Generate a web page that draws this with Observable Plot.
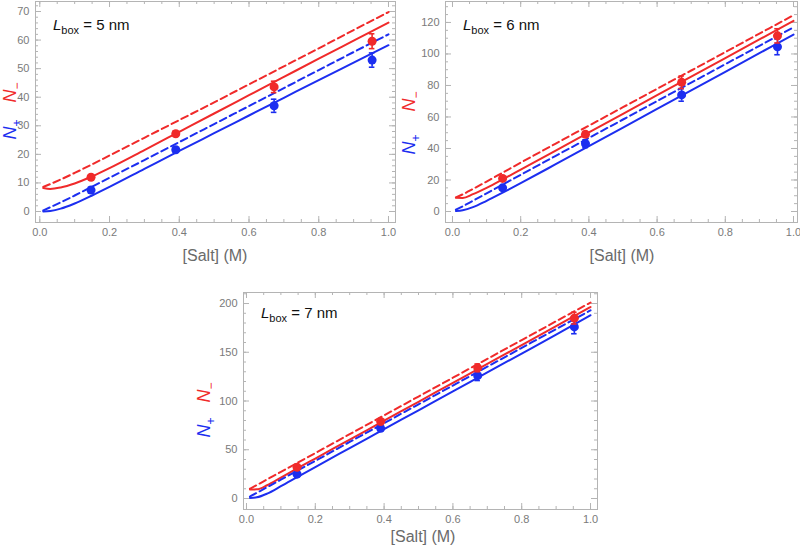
<!DOCTYPE html>
<html><head><meta charset="utf-8">
<script src="https://cdn.jsdelivr.net/npm/d3@7"></script>
<script src="https://cdn.jsdelivr.net/npm/@observablehq/plot@0.6"></script>
<style>
body{margin:0;background:#fff;font-family:"Liberation Sans",Arial,sans-serif;}
#c{position:relative;width:800px;height:550px;overflow:hidden;background:#fff;}
.p{position:absolute;}
.lab{position:absolute;color:#6a6a6a;font-size:16px;transform:translate(-50%,-50%);white-space:nowrap;line-height:1;}
.ylab{position:absolute;font-size:18px;transform:translate(-50%,-50%) rotate(-90deg);white-space:nowrap;line-height:1;}
.ylab sub{font-size:12px;}
.box{position:absolute;font-size:15px;color:#111;white-space:nowrap;transform:translate(0,-50%);line-height:1;}
.box sub{font-size:11px;}
</style></head><body><div id="c"></div><script>
// ---- shared ----
const salt = [0.147, 0.39, 0.672, 0.953];
const curveSalt = [0.01, 0.03, 0.06, 0.1, 0.15, 0.2, 0.3, 0.4, 0.5, 0.6, 0.7, 0.8, 0.9, 1.0];
const xTicks = [0, 0.2, 0.4, 0.6, 0.8, 1.0];

// ---- L_box = 5 nm ----
const L5_negSim = [12.0, 27.2, 43.6, 59.6];
const L5_negErr = [0.6, 0.9, 2.0, 2.6];
const L5_posSim = [7.5, 21.6, 37.0, 53.0];
const L5_posErr = [1.0, 0.8, 2.3, 2.5];
const L5_negDashed = [8.6, 9.6, 11.2, 13.5, 16.5, 19.6, 25.8, 32.0, 38.2, 44.5, 50.8, 57.1, 63.5, 69.8];
const L5_negSolid  = [8.2, 7.9, 8.4, 9.8, 12.3, 15.2, 21.5, 27.9, 34.3, 40.7, 47.1, 53.5, 59.8, 66.1];
const L5_posDashed = [0.4, 1.5, 3.2, 5.6, 8.7, 11.8, 18.0, 24.3, 30.6, 36.9, 43.2, 49.5, 55.8, 62.0];
const L5_posSolid  = [0.0, 0.2, 1.0, 2.8, 5.6, 8.6, 14.9, 21.2, 27.4, 33.6, 39.8, 46.0, 52.1, 58.2];
const L5_yTicks = [0, 10, 20, 30, 40, 50, 60, 70];

// ---- L_box = 6 nm ----
const L6_negSim = [21.0, 49.0, 82.0, 111.5];
const L6_negErr = [1.2, 1.5, 4.0, 4.5];
const L6_posSim = [15.0, 43.0, 74.0, 104.5];
const L6_posErr = [1.2, 2.5, 4.0, 5.0];
const L6_negDashed = [9.0, 10.9, 14.3, 19.0, 25.0, 31.0, 42.8, 54.5, 66.2, 77.9, 89.5, 101.2, 112.9, 124.6];
const L6_negSolid  = [8.7, 8.6, 11.0, 15.0, 20.7, 26.6, 38.4, 50.2, 62.0, 73.8, 85.6, 97.4, 109.2, 121.0];
const L6_posDashed = [1.2, 3.3, 6.8, 11.5, 17.4, 23.3, 35.0, 46.7, 58.4, 70.1, 81.8, 93.5, 105.2, 116.9];
const L6_posSolid  = [0.3, 0.8, 2.8, 6.8, 12.3, 18.0, 29.7, 41.5, 53.3, 65.1, 76.9, 88.7, 100.5, 112.3];
const L6_yTicks = [0, 20, 40, 60, 80, 100, 120];

// ---- L_box = 7 nm ----
const L7_negSim = [32.0, 79.0, 134.0, 185.0];
const L7_negErr = [2.0, 2.5, 4.0, 6.0];
const L7_posSim = [25.0, 72.0, 126.0, 176.0];
const L7_posErr = [2.0, 2.0, 5.0, 7.0];
const L7_negDashed = [10.0, 13.8, 19.6, 27.3, 37.0, 46.6, 66.0, 85.3, 104.6, 123.9, 143.2, 162.5, 181.8, 201.0];
const L7_negSolid  = [9.2, 9.4, 13.6, 21.4, 31.3, 41.0, 60.4, 79.8, 99.2, 118.6, 138.0, 157.4, 176.8, 196.4];
const L7_posDashed = [2.0, 5.8, 11.6, 19.3, 29.0, 38.6, 58.0, 77.3, 96.6, 115.9, 135.2, 154.5, 173.8, 193.0];
const L7_posSolid  = [0.5, 1.2, 5.0, 12.6, 22.5, 32.3, 51.7, 71.1, 90.5, 109.9, 129.3, 148.7, 168.1, 188.0];
const L7_yTicks = [0, 50, 100, 150, 200];

const RED = "#f02a2a", BLUE = "#1c2ef0", FRAME = "#b4b4b4";

function series(vals) { return curveSalt.map((x, i) => ({x, y: vals[i]})); }
function pts(vals, errs) { return salt.map((x, i) => ({x, y: vals[i], e: errs[i]})); }

function panel(cfg) {
  const fw = cfg.width - cfg.ml - cfg.mr, fh = cfg.height - cfg.mt - cfg.mb;
  const xMinor = d3.range(0, 1.0001, 0.05).map(v => +v.toFixed(2));
  const yMinor = d3.range(0, cfg.ydom[1], cfg.yMinorStep);
  const tickStroke = {stroke: FRAME, strokeWidth: 1};
  const ptsNeg = pts(cfg.negSim, cfg.negErr), ptsPos = pts(cfg.posSim, cfg.posErr);
  const errMarks = (data, color) => [
    Plot.ruleX(data, {x: "x", y1: d => d.y - d.e, y2: d => d.y + d.e, stroke: color, strokeWidth: 1.6}),
    Plot.ruleY(data, {y: d => d.y - d.e, x1: d => d.x - 0.008, x2: d => d.x + 0.008, stroke: color, strokeWidth: 1.6}),
    Plot.ruleY(data, {y: d => d.y + d.e, x1: d => d.x - 0.008, x2: d => d.x + 0.008, stroke: color, strokeWidth: 1.6}),
    Plot.dot(data, {x: "x", y: "y", r: 4.5, fill: color, stroke: "none"})
  ];
  const svg = Plot.plot({
    width: cfg.width, height: cfg.height,
    marginTop: cfg.mt, marginBottom: cfg.mb, marginLeft: cfg.ml, marginRight: cfg.mr,
    x: {domain: cfg.xdom}, y: {domain: cfg.ydom},
    style: {fontFamily: "'Liberation Sans', Arial, sans-serif", fontSize: "11px", color: "#7a7a7a", background: "transparent", overflow: "visible"},
    marks: [
      Plot.tickX(xMinor, {x: d => d, insetTop: fh - 3, ...tickStroke}),
      Plot.tickX(xMinor, {x: d => d, insetBottom: fh - 3, ...tickStroke}),
      Plot.tickX(xTicks, {x: d => d, insetTop: fh - 6, ...tickStroke}),
      Plot.tickX(xTicks, {x: d => d, insetBottom: fh - 6, ...tickStroke}),
      Plot.tickY(yMinor, {y: d => d, insetRight: fw - 3, ...tickStroke}),
      Plot.tickY(yMinor, {y: d => d, insetLeft: fw - 3, ...tickStroke}),
      Plot.tickY(cfg.yTicks, {y: d => d, insetRight: fw - 6, ...tickStroke}),
      Plot.tickY(cfg.yTicks, {y: d => d, insetLeft: fw - 6, ...tickStroke}),
      Plot.frame({stroke: FRAME, strokeWidth: 1}),
      Plot.axisX(xTicks, {tickSize: 0, tickPadding: 6, tickFormat: d3.format(".1f"), label: null}),
      Plot.axisY(cfg.yTicks, {tickSize: 0, tickPadding: 6, label: null}),
      Plot.line(series(cfg.negDashed), {x: "x", y: "y", stroke: RED, strokeWidth: 2, strokeDasharray: "7,4", curve: "monotone-x"}),
      Plot.line(series(cfg.negSolid), {x: "x", y: "y", stroke: RED, strokeWidth: 2, curve: "monotone-x"}),
      Plot.line(series(cfg.posDashed), {x: "x", y: "y", stroke: BLUE, strokeWidth: 2, strokeDasharray: "7,4", curve: "monotone-x"}),
      Plot.line(series(cfg.posSolid), {x: "x", y: "y", stroke: BLUE, strokeWidth: 2, curve: "monotone-x"}),
      ...errMarks(ptsPos, BLUE),
      ...errMarks(ptsNeg, RED)
    ]
  });
  svg.classList.add("p");
  svg.style.left = cfg.left + "px";
  svg.style.top = cfg.top + "px";
  const c = document.getElementById("c");
  c.appendChild(svg);
  const lab = document.createElement("div");
  lab.className = "lab"; lab.textContent = "[Salt] (M)";
  lab.style.left = cfg.xlab[0] + "px"; lab.style.top = cfg.xlab[1] + "px";
  c.appendChild(lab);
  const yl = document.createElement("div");
  yl.className = "ylab";
  yl.innerHTML = `<span style="color:${BLUE}"><i>N</i><sub>+</sub></span><span style="color:${RED};margin-left:${cfg.gap}px"><i>N</i><sub>−</sub></span>`;
  yl.style.left = cfg.ylab[0] + "px"; yl.style.top = cfg.ylab[1] + "px";
  c.appendChild(yl);
  const bx = document.createElement("div");
  bx.className = "box";
  bx.innerHTML = `<i>L</i><sub>box</sub> = ${cfg.L} nm`;
  bx.style.left = cfg.boxPos[0] + "px"; bx.style.top = cfg.boxPos[1] + "px";
  c.appendChild(bx);
}

panel({left: 0, top: 0, width: 400, height: 240, ml: 35, mr: 5, mt: 1, mb: 18,
  xdom: [-0.0123, 1.0201], ydom: [-3.85, 73.5], yTicks: L5_yTicks, yMinorStep: 2,
  negSim: L5_negSim, negErr: L5_negErr, posSim: L5_posSim, posErr: L5_posErr,
  negDashed: L5_negDashed, negSolid: L5_negSolid, posDashed: L5_posDashed, posSolid: L5_posSolid,
  xlab: [215, 256], ylab: [12, 111], gap: 17, boxPos: [53, 26], L: 5});

panel({left: 400, top: 0, width: 400, height: 240, ml: 45, mr: 3, mt: 1, mb: 18,
  xdom: [-0.0205, 1.0117], ydom: [-6.98, 133.3], yTicks: L6_yTicks, yMinorStep: 5,
  negSim: L6_negSim, negErr: L6_negErr, posSim: L6_posSim, posErr: L6_posErr,
  negDashed: L6_negDashed, negSolid: L6_negSolid, posDashed: L6_posDashed, posSolid: L6_posSolid,
  xlab: [622, 256], ylab: [411, 123], gap: 23, boxPos: [463, 26], L: 6});

panel({left: 200, top: 270, width: 400, height: 257, ml: 43, mr: 3, mt: 22, mb: 18,
  xdom: [-0.0087, 1.0203], ydom: [-11.28, 211.3], yTicks: L7_yTicks, yMinorStep: 10,
  negSim: L7_negSim, negErr: L7_negErr, posSim: L7_posSim, posErr: L7_posErr,
  negDashed: L7_negDashed, negSolid: L7_negSolid, posDashed: L7_posDashed, posSolid: L7_posSolid,
  xlab: [423, 537], ylab: [206, 410], gap: 15, boxPos: [261, 314], L: 7});
</script></body></html>
